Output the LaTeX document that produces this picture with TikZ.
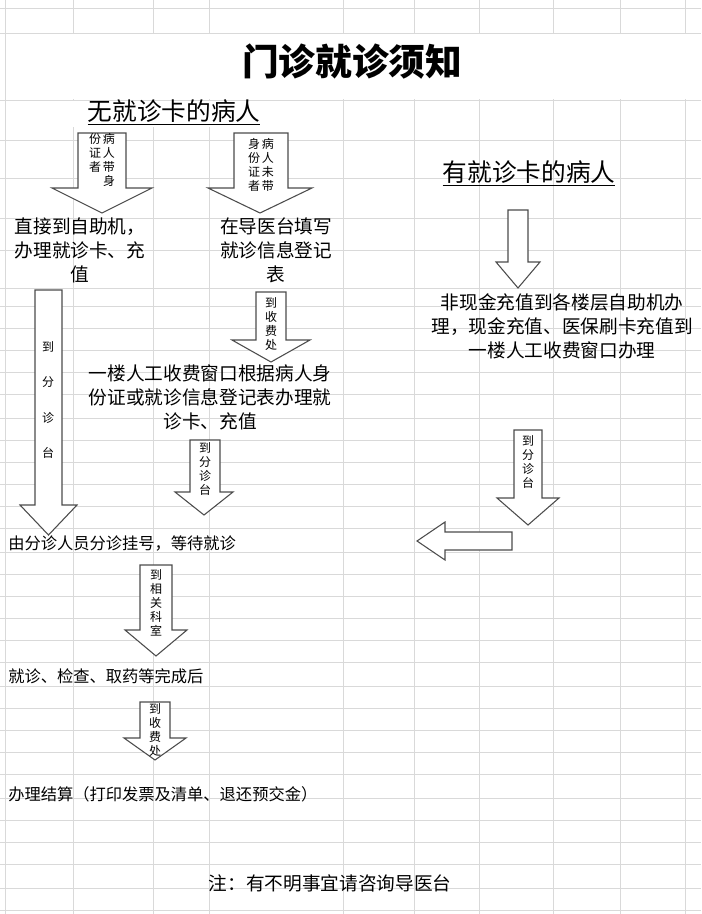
\documentclass[tikz,border=0pt]{standalone}
\usepackage{fontspec}
\setmainfont{Noto Sans CJK SC}
\tikzstyle{grid} = [draw=black!15, line width=0.6pt]
\tikzstyle{block} = [draw=black!70, fill=white, line width=0.8pt]
\tikzstyle{note} = [align=center, font=\fontsize{14}{18}\selectfont, inner sep=0pt]
\tikzstyle{line} = [anchor=west, font=\fontsize{12.2}{14}\selectfont, inner sep=0pt]
\tikzstyle{tag} = [align=center, font=\fontsize{9}{10.5}\selectfont, inner sep=0pt]
\tikzstyle{head} = [font=\fontsize{18.5}{21}\selectfont, inner sep=0pt]
% down arrow: shaft left, shaft right, top, head start, head left, head right, tip
\newcommand{\dnarrow}[7]{\draw[block] (#1,#3)--(#2,#3)--(#2,#4)--(#6,#4)--({(#5+#6)/2},#7)--(#5,#4)--(#1,#4)--cycle;}
\begin{document}
\begin{tikzpicture}[x=0.75pt, y=-0.75pt]
    \useasboundingbox (0,0) rectangle (701,914);
    \fill[white] (0,0) rectangle (701,914);
    \foreach \y in {8,33,100,140,178,218,250,288,306,328,350,372,394,418,440,462,484,506,528,552,574,596,618,640,662,686,708,730,752,774,798,820,842,864,888,910}
        \draw[grid] (0,\y)--(701,\y);
    \foreach \x in {5,73,153,209,343,414,479,553,620,685}
        \draw[grid] (\x,0)--(\x,914);
    \fill[white] (6,34) rectangle (700,99);
    \fill[white] (6,101) rectangle (342,127);
    \node (title) [font=\fontsize{27.5}{30}\selectfont\bfseries] at (352,62) {门诊就诊须知};
    \node (nocard) [head] at (174,112) {\underline{无就诊卡的病人}};
    \node (card) [head] at (529,173) {\underline{有就诊卡的病人}};
    % arrows
    \dnarrow{78}{126}{133}{188}{52}{152}{213}
    \node (a1) [tag] at (102,160) {份\,病\\证\,人\\者\,带\\\phantom{者}\,身};
    \dnarrow{234}{288}{133}{188}{208}{312}{213}
    \node (a2) [tag] at (261,165) {身\,病\\份\,人\\证\,未\\者\,带};
    \dnarrow{508}{528}{210}{262}{496}{540}{288}
    \dnarrow{35}{62}{290}{505}{20}{77}{535}
    \node (a3) [tag] at (48,400) {到\\[16pt]分\\[16pt]诊\\[16pt]台};
    \dnarrow{256}{286}{292}{340}{232}{310}{362}
    \node (a4) [tag] at (271,324) {到\\收\\费\\处};
    \dnarrow{190}{220}{440}{492}{175}{233}{515}
    \node (a5) [tag] at (205,469) {到\\分\\诊\\台};
    \dnarrow{514}{542}{430}{498}{497}{559}{525}
    \node (a6) [tag] at (528,462) {到\\分\\诊\\台};
    \draw[block] (512,532)--(445,532)--(445,522)--(417,541)--(445,560)--(445,550)--(512,550)--cycle;
    \dnarrow{140}{172}{565}{630}{125}{187}{656}
    \node (a7) [tag] at (156,603) {到\\相\\关\\科\\室};
    \dnarrow{140}{170}{702}{738}{124}{186}{760}
    \node (a8) [tag] at (155,730) {到\\收\\费\\处};
    % texts
    \node (self) [note] at (80,250) {直接到自助机，\\办理就诊卡、充\\值};
    \node (desk) [note] at (276,250) {在导医台填写\\就诊信息登记\\表};
    \node (cash) [note] at (562,326) {非现金充值到各楼层自助机办\\理，现金充值、医保刷卡充值到\\一楼人工收费窗口办理};
    \node (window) [note] at (210,397) {一楼人工收费窗口根据病人身\\份证或就诊信息登记表办理就\\诊卡、充值};
    \node (triage) [line] at (8,543) {由分诊人员分诊挂号，等待就诊};
    \node (done) [line] at (8,676) {就诊、检查、取药等完成后};
    \node (settle) [line] at (8,794) {办理结算（打印发票及清单、退还预交金）};
    \node (remark) [note] at (330,883) {注：有不明事宜请咨询导医台};
\end{tikzpicture}
\end{document}
